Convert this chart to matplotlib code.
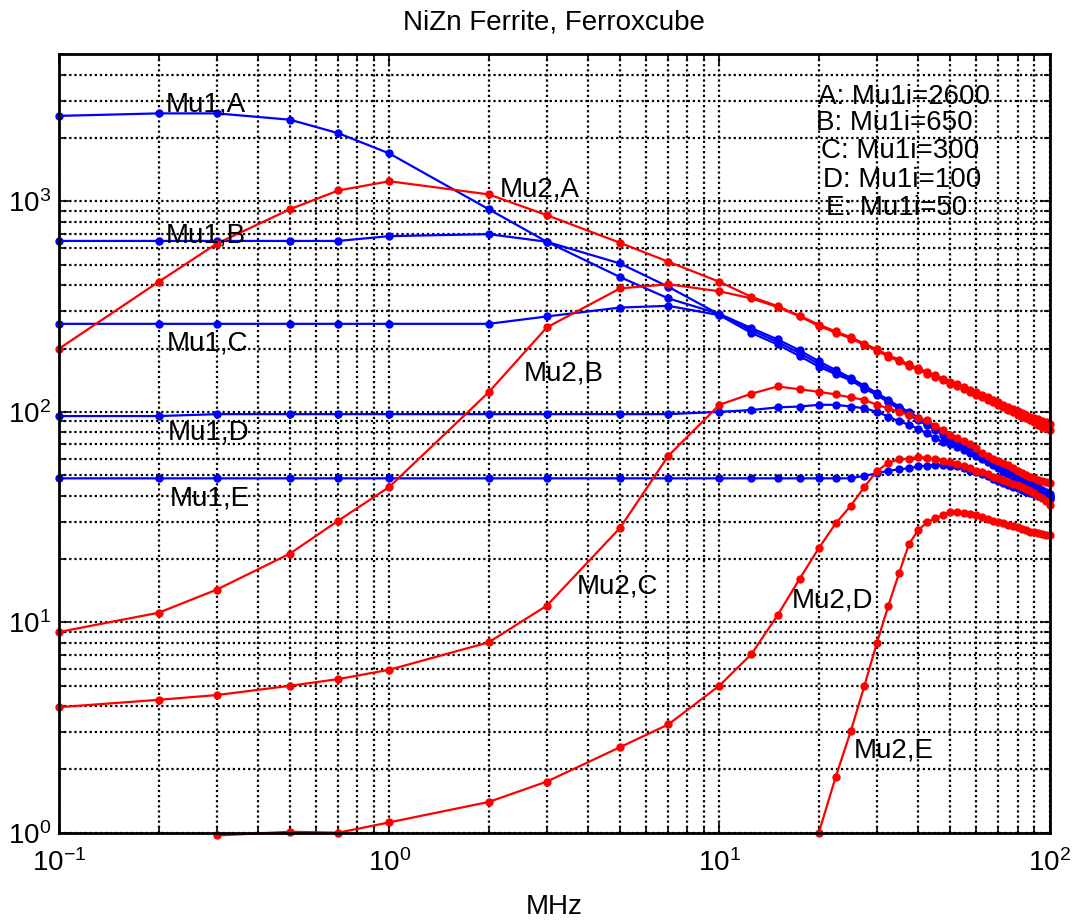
import matplotlib
matplotlib.use("Agg")
import matplotlib.pyplot as plt

plt.rcParams['font.family'] = ['Liberation Sans', 'DejaVu Sans']
plt.rcParams['mathtext.fontset'] = 'custom'
plt.rcParams['mathtext.rm'] = 'Liberation Sans'
plt.rcParams['mathtext.default'] = 'regular'
plt.rcParams['axes.unicode_minus'] = False

# ---------------- data ----------------
f_low = [0.1, 0.2, 0.3, 0.5, 0.7, 1, 2, 3, 5, 7]
f_high = [10, 12.5, 15, 17.5, 20, 22.5, 25, 27.5, 30, 32.5, 35, 37.5, 40, 42.5,
          45, 47.5, 50, 52.5, 55, 57.5, 60, 62.5, 65, 67.5, 70, 72.5, 75, 77.5,
          80, 82.5, 85, 87.5, 90, 92.5, 95, 97.5, 100]

mu1_A = [2550, 2620, 2620, 2445, 2110, 1690, 918, 643, 437, 346,
         292, 250, 221, 196, 174, 158, 145, 133, 123, 114, 106, 100, 94, 89,
         84, 80, 76, 73, 70, 67, 64.5, 62.5, 60.5, 58.5, 57, 55.5, 54, 52.5,
         51, 49.5, 48, 47, 45.5, 44, 42.5, 41.5, 40.5]
mu1_B = [649, 649, 649, 649, 649, 684, 699, 643, 507, 393,
         290, 244, 215, 190, 169, 154, 143, 131, 121, 112, 104, 98, 92, 87.5,
         83, 79, 75, 72, 69, 66, 63.5, 61.5, 59.5, 57.5, 56, 54.5, 53, 51.5,
         50, 48.5, 47, 46, 44.5, 43, 41.5, 40.5, 39.5]
mu1_C = [262, 262, 262, 262, 262, 262, 262, 284, 313, 319,
         288, 237, 209, 184, 164, 151, 141, 129, 120, 111, 103, 97, 91, 86.5,
         82, 78, 74, 71, 68, 65, 62.5, 60.5, 58.5, 57, 55, 53.5, 52, 50.5,
         49, 47.5, 46, 45, 43.5, 42, 41, 40, 39]
mu1_D = [95.5, 95.5, 97.5, 97.5, 97.5, 97.5, 97.5, 97.5, 97.5, 97.5,
         100, 102, 105, 106, 108, 108, 106, 104, 100, 95, 90, 87, 83, 79,
         75, 72, 70, 68, 66, 64, 62, 60, 58, 56, 54, 52, 50.5, 49, 48,
         47, 46, 45, 44, 43, 42, 41, 40]
mu1_E = [48.3, 48.3, 48.3, 48.3, 48.3, 48.3, 48.3, 48.3, 48.3, 48.3,
         48.3, 48.3, 48.3, 48.3, 48.3, 48.3, 48.3, 49.7, 51, 52.5, 53.3, 54, 55, 55.5,
         56, 56, 55.5, 55, 54, 52.5, 51.5, 50.5, 49.5, 48, 47, 46, 45, 44,
         43.3, 42.5, 41.8, 41, 40.5, 40, 39.5, 39, 38.5]

mu2_A = [200, 415, 630, 918, 1127, 1247, 1080, 860, 636, 517,
         415, 352, 318, 286, 260, 241, 226, 211, 198, 186, 177, 168, 161, 155,
         149, 144, 139, 135, 131, 127, 124, 120, 117, 114, 111, 108, 106, 103,
         101, 99, 97, 95, 93, 92, 90, 89, 88]
mu2_B = [9.0, 11.1, 14.3, 21.2, 30.4, 44, 124, 252, 386, 404,
         374, 346, 315, 284, 256, 238, 223, 208, 195, 183, 174, 165, 158, 152,
         146, 141, 136, 132, 128, 124, 120, 117, 114, 111, 108, 105, 102, 100,
         97, 95, 93, 91, 89, 87, 85, 84, 82]
mu2_C = [3.95, 4.28, 4.51, 4.99, 5.37, 5.95, 8.03, 12.0, 28.1, 61.8,
         108, 122, 132, 128, 124.5, 121, 117, 114, 108, 104, 100, 96.5, 93.5, 91,
         86, 82, 78, 75, 72.5, 70, 67, 64, 62, 60, 58.5, 57, 56, 54,
         52.5, 51, 50, 49, 48.5, 47.5, 47, 46.5, 45.7]
f_mu2_D = [0.3, 0.5, 0.7, 1, 2, 3, 5, 7] + f_high
mu2_D = [0.97, 1.01, 1.0, 1.12, 1.40, 1.75, 2.55, 3.27,
         5.0, 7.06, 10.8, 16.1, 22.5, 29.5, 35.8, 44, 52.3, 57.3, 59.4, 60, 61, 60.5,
         59.5, 58.5, 58, 56.5, 55, 54, 52.5, 51.5, 50.5, 49, 48.3, 47.3, 46.5, 45.5,
         44.9, 44, 43, 42, 41, 40, 39, 37.5, 36]
f_mu2_E = f_high[4:]
mu2_E = [1.0, 1.84, 3.04, 5.0, 8.0, 12.0, 17.1, 23.5, 27.4, 29.8,
         31.2, 32.3, 33.5, 33.6, 33.2, 32.8, 32.4, 31.5, 30.8, 30.3, 30, 29.5, 29, 28.6,
         28.3, 27.8, 27.4, 27, 26.8, 26.5, 26.2, 26, 26]

curve_labels = ["Mu1,A", "Mu1,B", "Mu1,C", "Mu1,D", "Mu1,E",
                "Mu2,A", "Mu2,B", "Mu2,C", "Mu2,D", "Mu2,E"]
label_x = [0.2105, 0.21, 0.2118, 0.2135, 0.2167, 2.166, 2.56, 3.706, 16.6, 25.6]
label_y = [2683, 635, 196, 73.9, 36.0, 1050, 141.5, 13.7, 11.77, 2.28]

legend_lines = ["A: Mu1i=2600", "B: Mu1i=650", "C: Mu1i=300", "D: Mu1i=100", "E: Mu1i=50"]
legend_x = [19.9, 19.6, 20.3, 20.55, 20.98]
legend_y = [2918, 2178, 1609, 1172, 860]

# ---------------- plot ----------------
fig = plt.figure(figsize=(10.74, 9.24), dpi=100)
ax = fig.add_axes([0.0552, 0.0988, 0.9220, 0.8424])

f_all = f_low + f_high
style = dict(marker='o', markersize=5, linewidth=1.6, clip_on=False)
for ys in (mu1_A, mu1_B, mu1_C, mu1_D, mu1_E):
    ax.plot(f_all, ys, color='#0000ff', **style)
for ys in (mu2_A, mu2_B, mu2_C):
    ax.plot(f_all, ys, color='#ff0000', **style)
ax.plot(f_mu2_D, mu2_D, color='#ff0000', **style)
ax.plot(f_mu2_E, mu2_E, color='#ff0000', **style)

ax.set_xscale('log')
ax.set_yscale('log')
ax.set_xlim(0.1, 100)
ax.set_ylim(1, 5000)

ax.grid(True, which='both', color='black', linestyle=(0, (1, 1.3)), linewidth=1.6)
ax.set_axisbelow(True)
for s in ax.spines.values():
    s.set_linewidth(2)
ax.tick_params(which='both', direction='in', top=True, right=True, width=1.2)
ax.tick_params(which='major', length=7, labelsize=20)
ax.tick_params(which='minor', length=4)
ax.tick_params(axis='x', which='major', pad=12)
ax.tick_params(axis='y', which='major', pad=6)

for t, x, y in zip(curve_labels, label_x, label_y):
    ax.text(x, y, t, fontsize=20, ha='left', va='baseline', color='black')
for t, x, y in zip(legend_lines, legend_x, legend_y):
    ax.text(x, y, t, fontsize=20, ha='left', va='baseline', color='black')

ax.set_title("NiZn Ferrite, Ferroxcube", fontsize=20, pad=18)
ax.set_xlabel("MHz", fontsize=20, labelpad=12)

fig.savefig("out.png", dpi=100)
